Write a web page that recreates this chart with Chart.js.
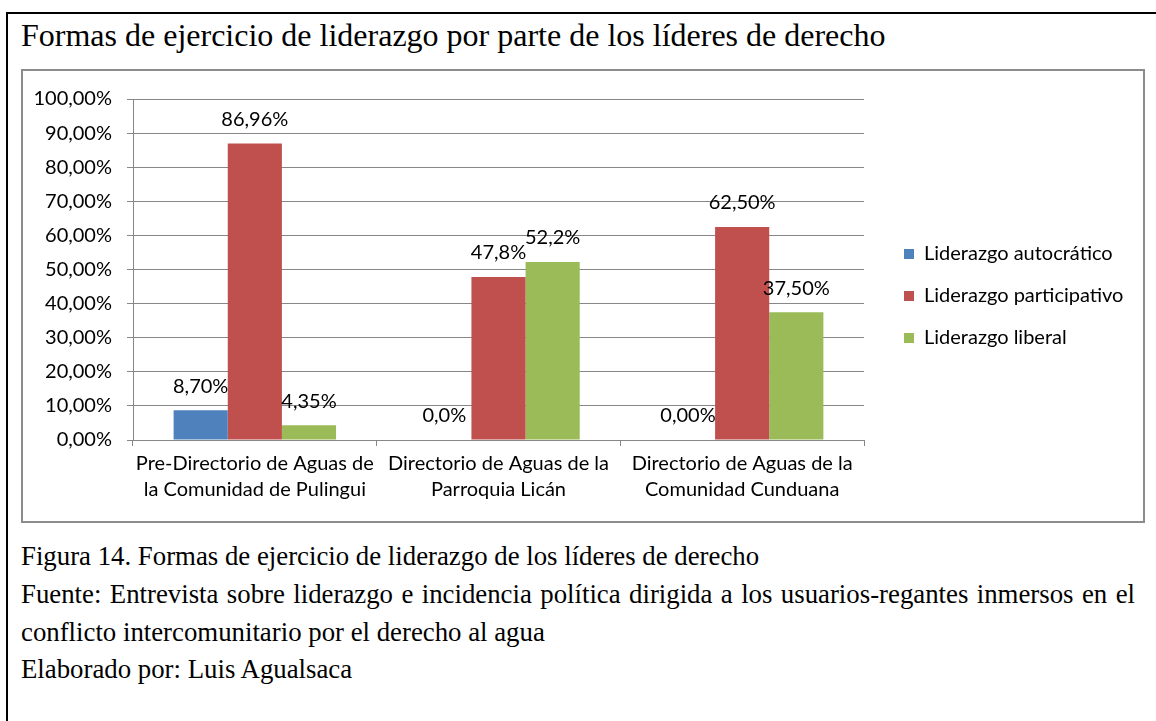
<!DOCTYPE html>
<html><head><meta charset="utf-8">
<script src="https://cdn.jsdelivr.net/npm/chart.js@4.4.1/dist/chart.umd.min.js"></script>
<style>
body{margin:0;background:#fff;width:1156px;height:721px;overflow:hidden;position:relative;font-family:"Liberation Serif","Times New Roman",serif;color:#000}
#frameTop{position:absolute;left:6px;top:12px;width:1150px;height:2px;background:#000}
#frameLeft{position:absolute;left:6px;top:12px;width:2px;height:709px;background:#000}
#title{position:absolute;left:21px;top:17px;font-size:32px;line-height:36px;white-space:nowrap}
#box{position:absolute;left:21px;top:69px;width:1120px;height:450px;border:2px solid #8c8c8c}
#wrap{position:absolute;left:23px;top:71px;width:1120px;height:450px}
.cap{position:absolute;left:21px;font-size:26.8px;line-height:38px;white-space:nowrap}
#fuente1{width:1114px;text-align:justify;text-align-last:justify;white-space:normal}
</style></head>
<body>
<div id="frameTop"></div><div id="frameLeft"></div>
<div id="title">Formas de ejercicio de liderazgo por parte de los líderes de derecho</div>
<div id="box"></div>
<div id="wrap"><canvas id="c" width="1120" height="450"></canvas></div>
<div class="cap" style="top:537px">Figura 14. Formas de ejercicio de liderazgo de los líderes de derecho</div>
<div class="cap" id="fuente1" style="top:575px">Fuente: Entrevista sobre liderazgo e incidencia política dirigida a los usuarios-regantes inmersos en el</div>
<div class="cap" style="top:613px">conflicto intercomunitario por el derecho al agua</div>
<div class="cap" style="top:650px">Elaborado por: Luis Agualsaca</div>
<script>
const categories = [
  ["Pre-Directorio de Aguas de", "la Comunidad de Pulingui"],
  ["Directorio de Aguas de la", "Parroquia Licán"],
  ["Directorio de Aguas de la", "Comunidad Cunduana"]
];
const seriesNames = ["Liderazgo autocrático", "Liderazgo participativo", "Liderazgo liberal"];
const autocratico = [8.70, 0, 0];
const participativo = [86.96, 47.8, 62.50];
const liberal = [4.35, 52.2, 37.50];
const autocraticoLabels = ["8,70%", "0,0%", "0,00%"];
const participativoLabels = ["86,96%", "47,8%", "62,50%"];
const liberalLabels = ["4,35%", "52,2%", "37,50%"];
const yTickLabels = ["0,00%", "10,00%", "20,00%", "30,00%", "40,00%", "50,00%", "60,00%", "70,00%", "80,00%", "90,00%", "100,00%"];
const seriesColors = ["#4F81BD", "#C0504D", "#9BBB59"];

const FONT = "Lato";
const GRID = "#878787";

const barLabels = {
  id: 'barLabels',
  afterDatasetsDraw(chart, args, opts) {
    const ctx = chart.ctx;
    ctx.save();
    ctx.font = opts.size + "px " + FONT;
    ctx.fillStyle = "#000";
    ctx.textAlign = "center";
    ctx.textBaseline = "middle";
    chart.data.datasets.forEach((ds, i) => {
      const meta = chart.getDatasetMeta(i);
      meta.data.forEach((el, j) => {
        ctx.fillText(ds.valueLabels[j], el.x, el.y - opts.offset);
      });
    });
    ctx.restore();
  }
};

const legendPlacement = {
  id: 'legendPlacement',
  afterInit(chart, args, opts) {
    const lg = chart.legend;
    const fit = lg.fit.bind(lg);
    lg.fit = function () { fit(); this.width = opts.width; };
  },
  afterLayout(chart, args, opts) {
    const lg = chart.legend;
    lg.left = opts.left; lg.right = opts.left + opts.width;
    lg.top = opts.top; lg.bottom = chart.height;
  }
};

new Chart(document.getElementById('c'), {
  type: 'bar',
  data: {
    labels: categories,
    datasets: [
      {label: seriesNames[0], data: autocratico, valueLabels: autocraticoLabels, backgroundColor: seriesColors[0]},
      {label: seriesNames[1], data: participativo, valueLabels: participativoLabels, backgroundColor: seriesColors[1]},
      {label: seriesNames[2], data: liberal, valueLabels: liberalLabels, backgroundColor: seriesColors[2]}
    ]
  },
  options: {
    responsive: false,
    animation: false,
    devicePixelRatio: 1,
    datasets: {bar: {categoryPercentage: 3 / 4.5, barPercentage: 1, borderWidth: 0}},
    layout: {padding: {top: 28, left: 0, right: 0, bottom: 0}},
    scales: {
      x: {
        grid: {drawOnChartArea: false, drawTicks: true, tickLength: 6, color: GRID, lineWidth: 1},
        border: {display: true, color: GRID, width: 1},
        ticks: {color: "#000", font: {family: FONT, size: 20, lineHeight: 1.3}, padding: 5, maxRotation: 0, autoSkip: false},
        afterFit(s) { s.height = 81; }
      },
      y: {
        min: 0, max: 100,
        grid: {color: GRID, lineWidth: 1, tickLength: 6},
        border: {display: true, color: GRID, width: 1},
        ticks: {stepSize: 10, color: "#000", font: {family: FONT, size: 20}, padding: 15,
          callback: (v, i) => yTickLabels[i]},
        afterFit(s) { s.width = 110; }
      }
    },
    plugins: {
      title: {display: false},
      tooltip: {enabled: false},
      legend: {
        position: 'right',
        align: 'start',
        labels: {boxWidth: 10, boxHeight: 10, padding: 22, color: "#000", font: {family: FONT, size: 20}}
      },
      legendPlacement: {width: 279, left: 859, top: 151},
      barLabels: {offset: 24, size: 20}
    }
  },
  plugins: [legendPlacement, barLabels]
});
</script>
</body></html>
